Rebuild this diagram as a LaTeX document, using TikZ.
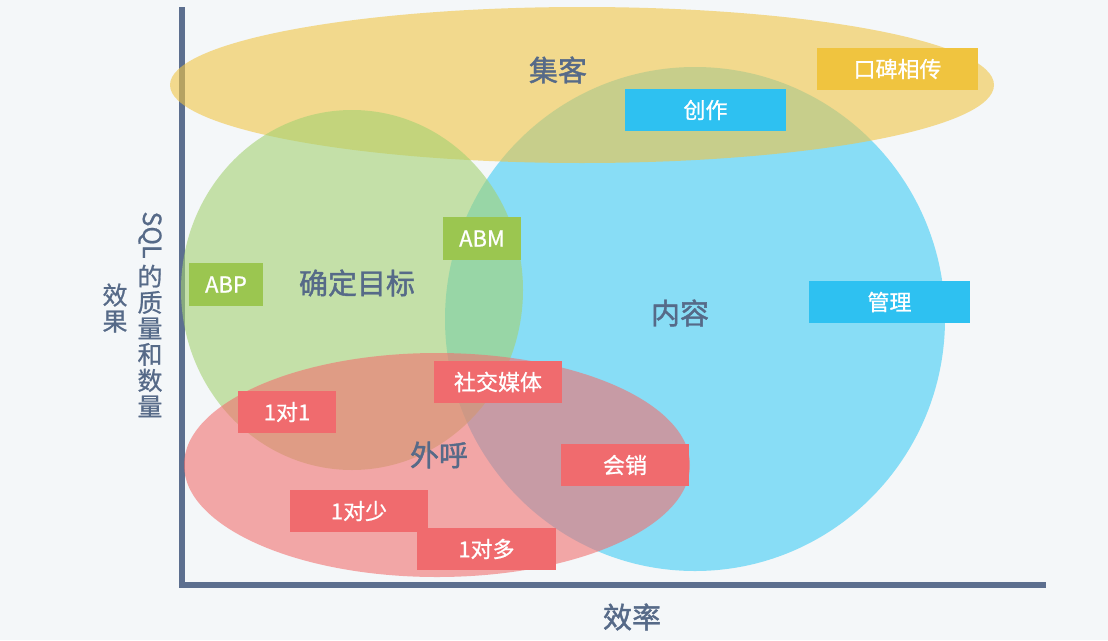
\documentclass[tikz,border=0pt]{standalone}
\usepackage{fontspec}
\setmainfont{Noto Sans CJK SC}
\newfontfamily\medfont[FakeBold=1.4]{Noto Sans CJK SC}
\newfontfamily\boxfont[FakeBold=0.8]{Noto Sans CJK SC}
\definecolor{bgcol}{HTML}{F4F7F9}
\definecolor{axiscol}{HTML}{5C6F8F}
\definecolor{txtcol}{HTML}{566A88}
\definecolor{yellowfill}{HTML}{F1C545}
\definecolor{greenfill}{HTML}{A4D272}
\definecolor{bluefill}{HTML}{40CDF4}
\definecolor{redfill}{HTML}{F2706F}
\definecolor{yellowbox}{HTML}{F0C43F}
\definecolor{greenbox}{HTML}{9BC650}
\definecolor{bluebox}{HTML}{2EC1F1}
\definecolor{redbox}{HTML}{F06B6E}
\begin{document}
\begin{tikzpicture}[x=1pt,y=-1pt,
	box/.style={inner sep=0pt,text=white,font=\boxfont\fontsize{22}{22}\selectfont,minimum height=42pt},
	lbl/.style={text=txtcol,font=\medfont\fontsize{29}{29}\selectfont},
	axlbl/.style={text=txtcol,font=\boxfont\fontsize{25}{26}\selectfont,inner sep=0pt,align=center}]
		\fill[bgcol] (0,0) rectangle (1108,640);
		\draw[line width=6pt,axiscol] (182,7) -- (182,585) -- (1046,585);
		\fill[bluefill,opacity=0.6] (695,319) ellipse [x radius=250pt,y radius=252pt];
		\fill[yellowfill,opacity=0.6] (582,85) ellipse [x radius=412pt,y radius=78pt];
		\fill[greenfill,opacity=0.6] (352,290) ellipse [x radius=171pt,y radius=180pt];
		\fill[redfill,opacity=0.6] (437,465) ellipse [x radius=253pt,y radius=112pt];
		\node[lbl] (jike) at (558,70) {集客};
		\node[lbl] (mubiao) at (357,283) {确定目标};
		\node[lbl] (neirong) at (680,313) {内容};
		\node[lbl] (waihu) at (439,455) {外呼};
		\node[lbl] (xiaolv) at (632,617) {效率};
		\node[axlbl,rotate=-90] (sql) at (150,235) {SQL};
		\node[axlbl] (zhiliang) at (150,341) {的\\质\\量\\和\\数\\量};
		\node[axlbl] (xiaoguo) at (115,308) {效\\果};
		\node[box,fill=yellowbox,minimum width=161pt] (koubei) at (897.5,69) {口碑相传};
		\node[box,fill=bluebox,minimum width=161pt] (chuangzuo) at (705.5,110) {创作};
		\node[box,fill=greenbox,minimum width=78pt,minimum height=43pt] (abm) at (482,238.5) {ABM};
		\node[box,fill=greenbox,minimum width=74pt,minimum height=43pt] (abp) at (226,284.5) {ABP};
		\node[box,fill=bluebox,minimum width=161pt] (guanli) at (889.5,302) {管理};
		\node[box,fill=redbox,minimum width=128pt] (shejiao) at (498,382) {社交媒体};
		\node[box,fill=redbox,minimum width=98pt] (yidui1) at (287,412) {1对1};
		\node[box,fill=redbox,minimum width=128pt] (huixiao) at (625,465) {会销};
		\node[box,fill=redbox,minimum width=138pt] (yiduishao) at (359,511) {1对少};
		\node[box,fill=redbox,minimum width=139pt] (yiduiduo) at (486.5,549) {1对多};
	\end{tikzpicture}
\end{document}
